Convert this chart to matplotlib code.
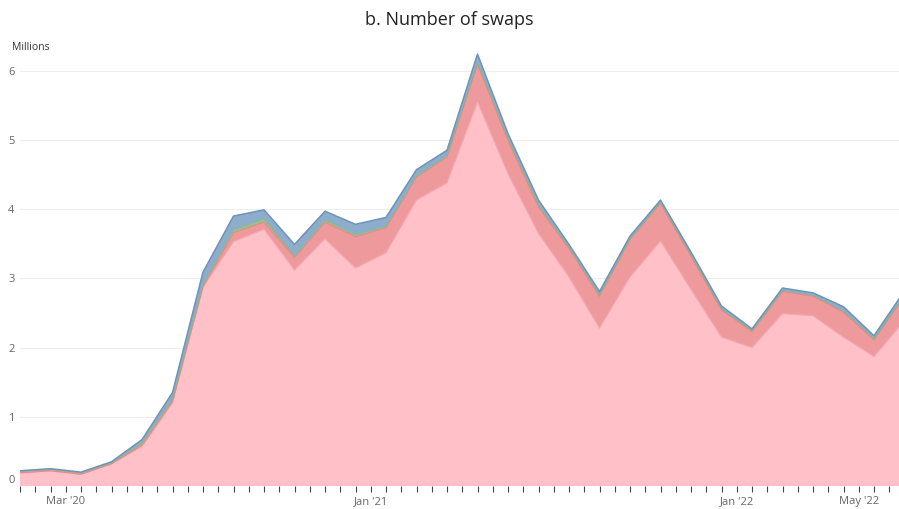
import numpy as np
import matplotlib
matplotlib.use("Agg")
from matplotlib import pyplot as plt

# monthly values (millions of swaps), Jan 2020 .. Jun 2022, stacked from the bottom up
months = np.arange(30) + 0.5   # mid-month positions, 0 = start of Jan 2020
pink = [0.19, 0.22, 0.17, 0.32, 0.57, 1.20, 2.87, 3.53, 3.71, 3.12,
        3.57, 3.15, 3.37, 4.13, 4.38, 5.55, 4.51, 3.65, 3.02, 2.28,
        3.02, 3.54, 2.84, 2.15, 2.00, 2.49, 2.46, 2.15, 1.87, 2.39]
red = [0.00, 0.00, 0.00, 0.00, 0.02, 0.02, 0.01, 0.13, 0.10, 0.18,
       0.24, 0.45, 0.36, 0.33, 0.37, 0.54, 0.48, 0.38, 0.41, 0.46,
       0.54, 0.54, 0.48, 0.39, 0.23, 0.32, 0.28, 0.36, 0.24, 0.35]
green = [0.02, 0.02, 0.02, 0.01, 0.03, 0.03, 0.03, 0.04, 0.05, 0.02,
         0.03, 0.03, 0.02, 0.02, 0.02, 0.01, 0.02, 0.02, 0.01, 0.01,
         0.01, 0.01, 0.01, 0.01, 0.01, 0.01, 0.01, 0.01, 0.01, 0.01]
blue = [0.01, 0.01, 0.01, 0.02, 0.05, 0.10, 0.18, 0.20, 0.13, 0.17,
        0.13, 0.15, 0.13, 0.09, 0.08, 0.14, 0.08, 0.08, 0.05, 0.06,
        0.04, 0.04, 0.05, 0.05, 0.03, 0.04, 0.04, 0.07, 0.05, 0.07]

tick_pos = [2, 12, 24, 28]
tick_lbl = ["Mar '20", "Jan '21", "Jan '22", "May '22"]

fills = ['#ffc0c8', '#ee9a9d', '#93c48b', '#8eaccb']
edges = ['#f4a6ae', '#e8868c', '#7fb877', '#6f93b6']
widths = [0.8, 0.8, 0.5, 1.1]

plt.rcParams['font.family'] = ['Open Sans', 'DejaVu Sans']
fig = plt.figure(figsize=(8.99, 5.09), dpi=100)
ax = fig.add_axes([20/899, 23/509, 879/899, 443/509])

series = [pink, red, green, blue]
ax.stackplot(months, *series, colors=fills, linewidth=0)
tops = np.cumsum(np.array(series), axis=0)
for top, ec, w in zip(tops, edges, widths):
    ax.plot(months, top, color=ec, lw=w)

ax.set_xlim(0.5, 0.5 + 879/30.5)
ax.set_ylim(0, 6.4)

ax.set_yticks(range(7))
ax.set_yticklabels([str(i) for i in range(7)])
ax.yaxis.grid(True, color='#eeeeee', lw=0.8)
ax.set_axisbelow(True)
ax.tick_params(axis='y', length=0, pad=4, labelsize=8, labelcolor='#666666')
ax.get_yticklabels()[0].set_verticalalignment('bottom')

xt = np.arange(0.5, 29.5, 0.5)
ax.set_xticks(xt)
ax.set_xticklabels([tick_lbl[tick_pos.index(t)] if t in tick_pos else '' for t in xt])
ax.tick_params(axis='x', length=4, width=0.8, color='#444444', pad=3,
               labelsize=8, labelcolor='#666666')

for s in ax.spines.values():
    s.set_visible(False)

fig.text(0.5, 1 - 20/509, 'b. Number of swaps', ha='center', va='center',
         fontsize=13, color='#222222')
fig.text(12/899, 1 - 48/509, 'Millions', ha='left', va='center',
         fontsize=7.5, color='#333333')

fig.savefig('out.png', dpi=100)
